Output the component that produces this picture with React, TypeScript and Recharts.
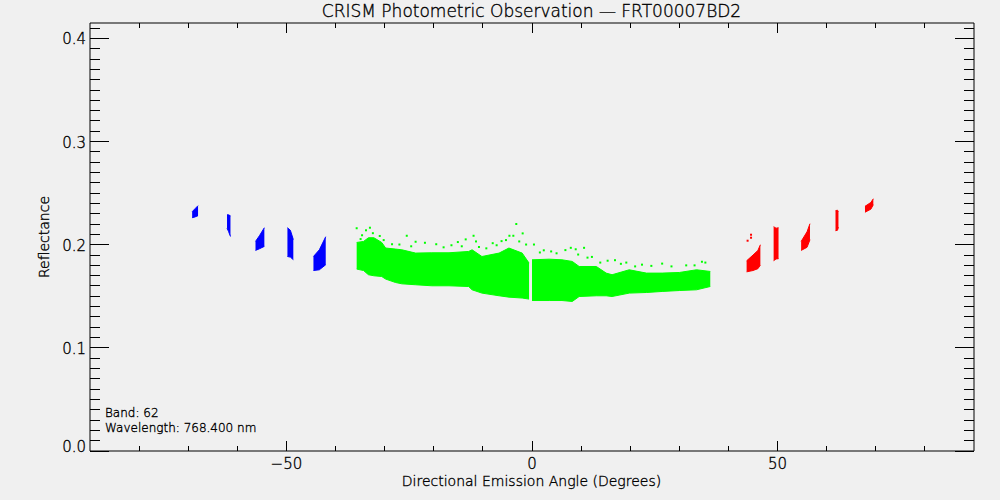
import {
  Area,
  ComposedChart,
  Scatter,
  XAxis,
  YAxis,
} from "recharts";

// angle (deg) vs reflectance, envelopes [x, low, high]
const blueClusters: [number, number, number][][] = [
  [[-69.2, 0.2262, 0.232], [-68.6, 0.227, 0.235], [-68.0, 0.2282, 0.2379]],
  [[-62.1, 0.216, 0.229], [-61.8, 0.213, 0.229], [-61.4, 0.208, 0.228]],
  [[-56.3, 0.1945, 0.2032], [-55.5, 0.1961, 0.2087], [-54.5, 0.1984, 0.2165]],
  [[-49.8, 0.1886, 0.2165], [-49.2, 0.188, 0.214], [-48.6, 0.1855, 0.205]],
  [[-44.5, 0.175, 0.1886], [-43.3, 0.1757, 0.1951], [-42.0, 0.1806, 0.2078]],
];

const greenClusters: [number, number, number][][] = [
  [
    [-35.7, 0.1764, 0.2022], [-34.3, 0.175, 0.2032], [-33.3, 0.1709, 0.2068],
    [-32.2, 0.1699, 0.2068], [-30.6, 0.1692, 0.2022], [-29.8, 0.1667, 0.1968],
    [-27.8, 0.1634, 0.1958], [-26.5, 0.1621, 0.1951], [-23.7, 0.1612, 0.1919],
    [-20.4, 0.1602, 0.1922], [-16.9, 0.1602, 0.1922], [-12.9, 0.1595, 0.1935],
    [-12.2, 0.1563, 0.1951], [-10.2, 0.1531, 0.1886], [-6.7, 0.1505, 0.1919],
    [-4.7, 0.1492, 0.1968], [-2.0, 0.1483, 0.1919], [-0.6, 0.1473, 0.1822],
  ],
  [
    [0.0, 0.1459, 0.1854], [3.5, 0.1459, 0.186], [6.1, 0.1459, 0.1854],
    [8.2, 0.145, 0.1838], [9.6, 0.1498, 0.1789], [13.1, 0.1505, 0.1789],
    [15.1, 0.1505, 0.1725], [16.3, 0.1498, 0.1709], [19.8, 0.1531, 0.1757],
    [23.3, 0.1537, 0.1725], [26.5, 0.1547, 0.1725], [30.0, 0.1556, 0.1731],
    [33.5, 0.1563, 0.1757], [36.3, 0.1595, 0.1741],
  ],
];

const redClusters: [number, number, number][][] = [
  [[43.7, 0.1737, 0.1844], [45.0, 0.175, 0.19], [46.0, 0.1768, 0.1945], [46.5, 0.1803, 0.2]],
  [[49.2, 0.1845, 0.2175], [49.7, 0.1862, 0.216], [50.2, 0.1865, 0.2165]],
  [[54.8, 0.1945, 0.2032], [56.0, 0.1975, 0.2125], [56.6, 0.2049, 0.2204]],
  [[61.8, 0.2136, 0.233], [62.2, 0.214, 0.2335], [62.4, 0.217, 0.232]],
  [[67.8, 0.2315, 0.2372], [69.0, 0.2345, 0.241], [69.5, 0.2388, 0.2446]],
];

// sparse points sitting above the dense green band
const greenSpray: [number, number][] = [
  [-35.7, 0.216], [-34.6, 0.2092], [-33.8, 0.214], [-33.0, 0.2165], [-32.4, 0.2112],
  [-31.0, 0.2085], [-25.5, 0.2087], [-23.7, 0.2029], [-21.8, 0.2019], [-19.5, 0.2005],
  [-15.1, 0.2026], [-13.5, 0.2052], [-11.9, 0.2087], [-11.4, 0.2032], [-8.0, 0.2015],
  [-4.6, 0.2087], [-3.2, 0.2201], [-3.8, 0.2087], [-1.2, 0.2002], [0.4, 0.2002],
  [2.4, 0.1946], [7.9, 0.197], [8.9, 0.1956], [10.6, 0.197], [12.2, 0.1882],
  [13.9, 0.1827], [19.2, 0.1827], [22.4, 0.1807], [26.5, 0.1817], [31.4, 0.18],
  [35.3, 0.1827], [5.0, 0.1917], [-28.5, 0.2005], [-6.2, 0.2035], [16.9, 0.185],
  [-34.9, 0.2055], [-30.2, 0.2045], [-27.0, 0.2002], [-24.6, 0.1985], [-18.0, 0.1975],
  [-16.4, 0.1995], [-14.3, 0.1985], [-10.8, 0.1978], [-9.3, 0.1965], [-7.2, 0.1995],
  [-5.3, 0.2045], [-2.6, 0.2032], [-1.9, 0.2110], [1.6, 0.1925], [3.9, 0.1935],
  [6.8, 0.1948], [9.4, 0.1905], [11.3, 0.1875], [15.4, 0.1845], [18.1, 0.1815],
  [21.0, 0.1790], [24.3, 0.1795], [28.4, 0.1790], [33.1, 0.1800], [34.6, 0.1835],
];

const redSpray: [number, number][] = [
  [44.6, 0.2097], [44.6, 0.2068], [43.9, 0.2039],
];

const xTicks = [-80, -70, -60, -50, -40, -30, -20, -10, 0, 10, 20, 30, 40, 50, 60, 70, 80];
const xLabels = [-50, 0, 50];
const yTicks = Array.from({ length: 42 }, (_, i) => i / 100);
const yLabels = ["0.0", "0.1", "0.2", "0.3", "0.4"];

type Row = { x: number; blue?: number[]; green?: number[]; red?: number[] };

function buildRows(): Row[] {
  const rows: Row[] = [];
  const add = (key: "blue" | "green" | "red", clusters: [number, number, number][][]) => {
    clusters.forEach((c) => {
      c.forEach(([x, lo, hi]) => rows.push({ x, [key]: [lo, hi] }));
      // break row so clusters are not joined
      rows.push({ x: c[c.length - 1][0] + 0.05 });
    });
  };
  add("blue", blueClusters);
  add("green", greenClusters);
  add("red", redClusters);
  return rows.sort((a, b) => a.x - b.x);
}

const rows = buildRows();
const sprayG = greenSpray.map(([x, y]) => ({ x, y }));
const sprayR = redSpray.map(([x, y]) => ({ x, y }));

const INK = "#000";
// thin single-stroke look of the original plot font
const txt = {
  fontFamily: "DejaVu Sans",
  fontWeight: 200,
  fill: INK,
  stroke: INK,
  strokeWidth: 0.35,
};

const fmtMinus = (v: number) => (v < 0 ? "\u2212" + Math.abs(v) : String(v));

const BottomTick = (p: any) => {
  const major = xLabels.includes(p.payload.value);
  return (
    <g>
      <line x1={p.x} x2={p.x} y1={p.y} y2={p.y - (major ? 10 : 5)} stroke={INK} shapeRendering="crispEdges" />
      {major && (
        <text x={p.x} y={p.y + 18} textAnchor="middle" fontSize={15} {...txt}>
          {fmtMinus(p.payload.value)}
        </text>
      )}
    </g>
  );
};

const TopTick = (p: any) => {
  const major = xLabels.includes(p.payload.value);
  return <line x1={p.x} x2={p.x} y1={p.y} y2={p.y + (major ? 10 : 5)} stroke={INK} shapeRendering="crispEdges" />;
};

const isMajorY = (v: number) => Math.round(v * 100) % 10 === 0;

const LeftTick = (p: any) => {
  const v = p.payload.value;
  const major = isMajorY(v);
  // the bottom label sits on the axis line instead of centred on it
  const dy = v === 0 ? 1 : 6;
  return (
    <g>
      <line x1={p.x} x2={p.x + (major ? 19 : 10)} y1={p.y} y2={p.y} stroke={INK} shapeRendering="crispEdges" />
      {major && (
        <text x={p.x - 4} y={p.y + dy} textAnchor="end" fontSize={15} {...txt}>
          {yLabels[Math.round(v * 10)]}
        </text>
      )}
    </g>
  );
};

const RightTick = (p: any) => {
  const major = isMajorY(p.payload.value);
  return <line x1={p.x} x2={p.x - (major ? 19 : 10)} y1={p.y} y2={p.y} stroke={INK} shapeRendering="crispEdges" />;
};

const dotShape = (fill: string) => (p: any) => (
  <rect x={p.cx - 1} y={p.cy - 1} width={2} height={2} fill={fill} />
);

const axisCommon = {
  type: "number" as const,
  interval: 0 as const,
  allowDataOverflow: true,
  tickSize: 0,
  tickMargin: 0,
  tickLine: false,
  axisLine: { stroke: INK },
};

export default function App() {
  return (
    <div style={{ position: "absolute", left: 0, top: 0, width: 1000, height: 500, background: "#f0f0f0" }}>
      <ComposedChart width={1000} height={500} data={rows} margin={{ top: 22, right: 25, bottom: 48, left: 89 }}>
        <XAxis {...axisCommon} dataKey="x" domain={[-90, 90]} ticks={xTicks} height={1} tick={BottomTick} />
        <XAxis {...axisCommon} xAxisId="top" orientation="top" dataKey="x" domain={[-90, 90]} ticks={xTicks} height={1} tick={TopTick} />
        <YAxis {...axisCommon} domain={[0, 0.415]} ticks={yTicks} width={1} tick={LeftTick} />
        <YAxis {...axisCommon} yAxisId="right" orientation="right" domain={[0, 0.415]} ticks={yTicks} width={1} tick={RightTick} />
        <Area dataKey="blue" type="linear" stroke="#0000ff" strokeWidth={1} fill="#0000ff" fillOpacity={1} isAnimationActive={false} dot={false} activeDot={false} />
        <Area dataKey="green" type="linear" stroke="#00ff00" strokeWidth={1} fill="#00ff00" fillOpacity={1} isAnimationActive={false} dot={false} activeDot={false} />
        <Area dataKey="red" type="linear" stroke="#ff0000" strokeWidth={1} fill="#ff0000" fillOpacity={1} isAnimationActive={false} dot={false} activeDot={false} />
        <Scatter data={sprayG} dataKey="y" shape={dotShape("#00ff00")} isAnimationActive={false} />
        <Scatter data={sprayR} dataKey="y" shape={dotShape("#ff0000")} isAnimationActive={false} />
      </ComposedChart>
      <svg width={1000} height={500} style={{ position: "absolute", left: 0, top: 0, pointerEvents: "none" }}>
        <text x={531.5} y={17} textAnchor="middle" fontSize={17} {...txt}>
          CRISM Photometric Observation — FRT00007BD2
        </text>
        <text x={531.5} y={486} textAnchor="middle" fontSize={14} {...txt}>
          Directional Emission Angle (Degrees)
        </text>
        <text x={49} y={237} transform="rotate(-90 49 237)" textAnchor="middle" fontSize={14} {...txt}>
          Reflectance
        </text>
        <text x={105} y={417} fontSize={12} {...txt}>
          Band: 62
        </text>
        <text x={105} y={432} fontSize={12} {...txt}>
          Wavelength: 768.400 nm
        </text>
      </svg>
    </div>
  );
}
